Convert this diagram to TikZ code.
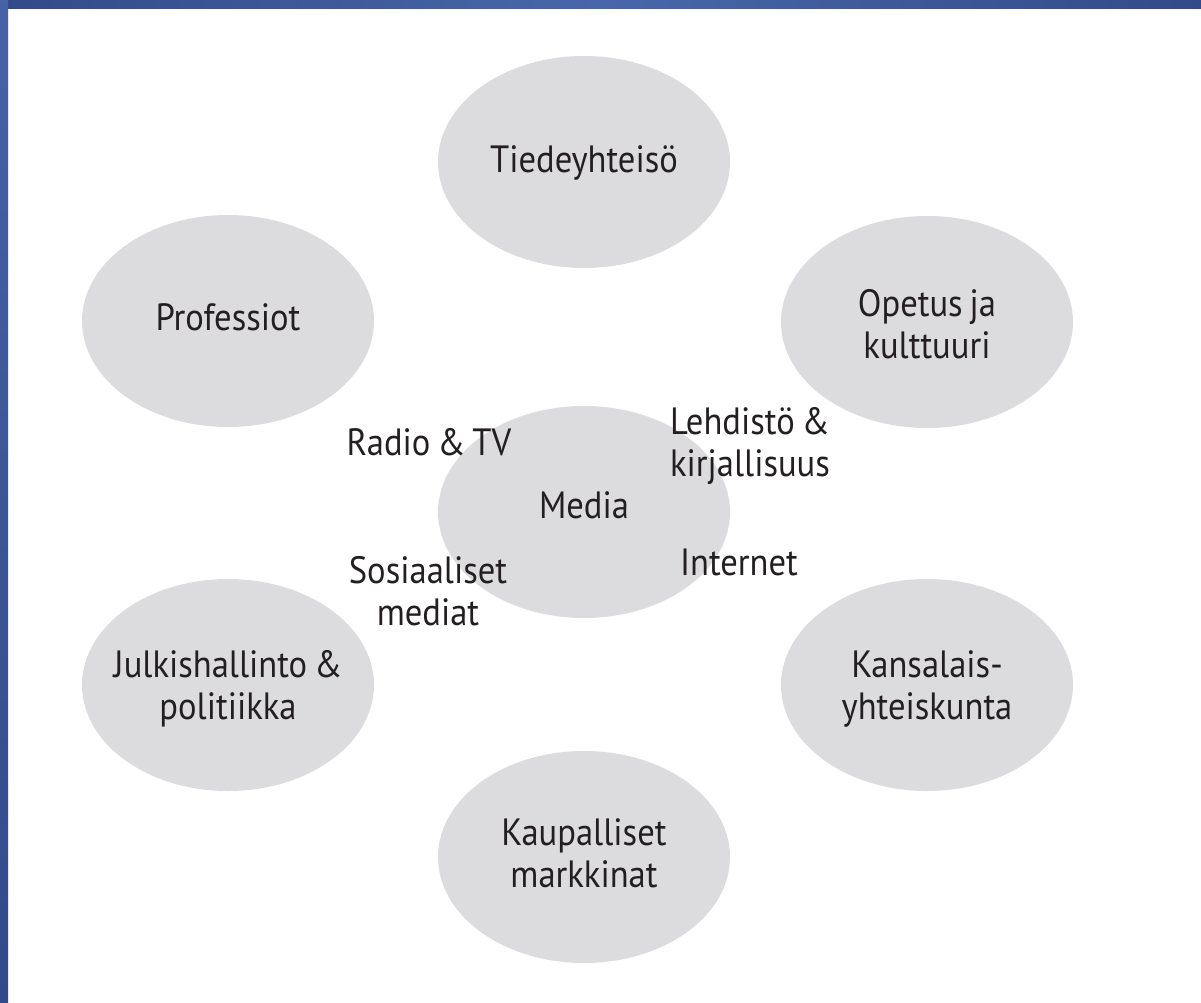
\documentclass[tikz,border=0pt]{standalone}
\usepackage{fontspec}
\setmainfont[FakeStretch=0.91,WordSpace=0.75]{PT Sans}
\usetikzlibrary{shapes.geometric}
\definecolor{blobgray}{RGB}{220,220,222}
\definecolor{txt}{RGB}{35,31,32}
\definecolor{bluedark}{RGB}{50,74,138}
\definecolor{bluelight}{RGB}{72,103,170}
\tikzset{
  blob/.style={ellipse, fill=blobgray, draw=none, minimum width=292pt, minimum height=212pt, inner sep=0pt},
  lbl/.style={text=txt, font=\fontsize{38}{42}\selectfont, align=center, inner sep=0pt, anchor=base},
}
\begin{document}
\begin{tikzpicture}[x=1pt,y=-1pt]
\useasboundingbox (0,0) rectangle (1201,1003);
\fill[white] (0,0) rectangle (1201,1003);
% border bars
\shade[left color=bluedark, right color=bluedark, middle color=bluelight] (0,0) rectangle (1201,9);
\shade[top color=bluelight!85!bluedark, bottom color=bluedark] (0,0) rectangle (8,1003);
% ellipses
\node[blob] (tiede) at (584,162) {};
\node[blob] (prof) at (228,321) {};
\node[blob] (opetus) at (927,322) {};
\node[blob] (media) at (584,512) {};
\node[blob] (julk) at (228,685) {};
\node[blob] (kans) at (927,685) {};
\node[blob] (kaup) at (584,857) {};
% texts (anchor = baseline of the last line)
\node[lbl] (tiedeT) at (584,173) {Tiedeyhteisö};
\node[lbl] (profT) at (228,330) {Professiot};
\node[lbl] (opetusT) at (927,358) {Opetus ja\\kulttuuri};
\node[lbl] (mediaT) at (584,518) {Media};
\node[lbl] (julkT) at (228,719) {Julkishallinto \&\\politiikka};
\node[lbl] (kansT) at (927,719) {Kansalais-\\yhteiskunta};
\node[lbl] (kaupT) at (584,887) {Kaupalliset\\markkinat};
\node[lbl] (radio) at (429,455) {Radio \& TV};
\node[lbl] (lehd) at (750,476) {Lehdistö \&\\kirjallisuus};
\node[lbl] (inet) at (739,575) {Internet};
\node[lbl] (sos) at (428,625) {Sosiaaliset\\mediat};
\end{tikzpicture}
\end{document}
